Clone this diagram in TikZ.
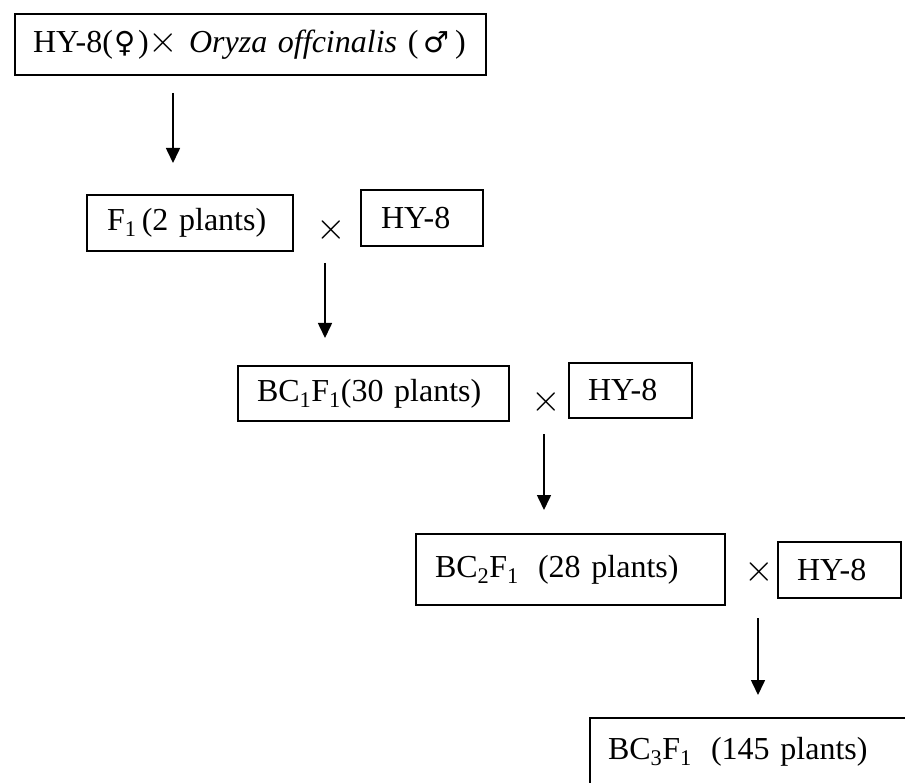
\documentclass[tikz,border=0pt]{standalone}
\usepackage{fontspec}
\setmainfont{Liberation Serif}
\newfontfamily\symfont{DejaVu Sans}
\newfontfamily\lmfont{lmroman10-regular.otf}
\newcommand{\bigx}{{\lmfont\fontsize{38}{38}\selectfont×}}
\usetikzlibrary{
  arrows.meta,
}
\tikzset{
  x = 1pt,
  y = -1pt,
  n/.style={
    draw, line width=1.1pt, anchor=north west, align=left,
    inner ysep=0pt, inner xsep=19pt, outer sep=0pt,
    font=\fontsize{32}{38}\selectfont,
  },
  cross/.style={inner sep=0pt, font=\lmfont\fontsize{38}{38}\selectfont},
  >={Triangle[length=15pt,width=14pt]},
  down/.style={->, line width=1.6pt},
}

\begin{document}
\begin{tikzpicture}
  \path[use as bounding box] (0,0) rectangle (905,783);
  \node[n, inner xsep=18pt, text width=435pt, minimum height=61pt](Cross) at (15,14)
    {HY-8(\hspace{2pt}{\symfont\fontsize{29}{38}\selectfont ♀}\hspace{2pt})\bigx\ \textit{Oryza offcinalis}
     (\,{\symfont\fontsize{29}{38}\selectfont ♂}\,)};
  \node[n, inner xsep=20pt, text width=166pt, minimum height=56pt](F) at (87,195)
    {F\textsubscript{1}\,(2 plants)};
  \node[cross](xA) at (331,230){×};
  \node[n, inner xsep=20pt, text width=82pt, minimum height=56pt](HyA) at (361,190){HY-8};
  \node[n, text width=233pt, minimum height=55pt](BCa) at (238,366)
    {BC\textsubscript{1}F\textsubscript{1}(30 plants)};
  \node[cross](xB) at (546,402){×};
  \node[n, text width=85pt, minimum height=55pt](HyB) at (569,363){HY-8};
  \node[n, text width=271pt, minimum height=71pt](BCb) at (416,534)
    {BC\textsubscript{2}F\textsubscript{1}\hspace{0.6em}(28 plants)};
  \node[cross](xC) at (759,572){×};
  \node[n, text width=85pt, minimum height=56pt](HyC) at (778,542){HY-8};
  \node[n, inner xsep=18pt, text width=340pt, minimum height=90pt, text depth=30pt](BCc) at (590,718)
    {BC\textsubscript{3}F\textsubscript{1}\hspace{0.6em}(145 plants)};
  %%
  \draw[down, shorten <=18pt, shorten >=32pt]([xshift=-77.5pt]Cross.south)
    -- ([xshift=-77.5pt]Cross.south |- F.north);
  \draw[down, shorten <=33pt, shorten >=28pt]([xshift=-6pt]xA.center)
    -- ([xshift=-6pt]xA.center |- BCa.north);
  \draw[down, shorten <=32pt, shorten >=24pt]([xshift=-2pt]xB.center)
    -- ([xshift=-2pt]xB.center |- BCb.north);
  \draw[down, shorten <=46pt, shorten >=23pt]([xshift=-1pt]xC.center)
    -- ([xshift=-1pt]xC.center |- BCc.north);
\end{tikzpicture}
\end{document}
